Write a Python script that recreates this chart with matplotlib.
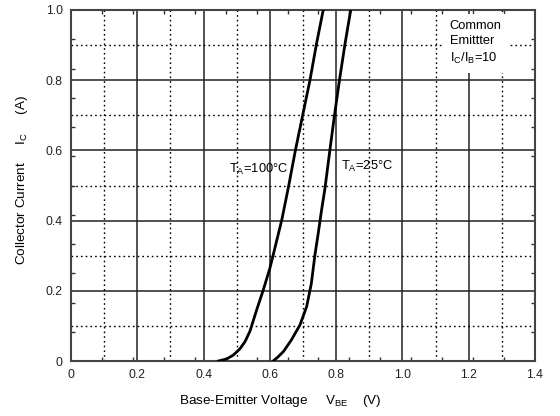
import numpy as np
import matplotlib
matplotlib.use("Agg")
import matplotlib.pyplot as plt

# curves
vbe_100 = [0.445, 0.47, 0.49, 0.51, 0.525, 0.54, 0.56, 0.58, 0.60, 0.61, 0.636, 0.657, 0.677, 0.699, 0.721, 0.741, 0.761]
ic_100 = [0.0, 0.006, 0.017, 0.035, 0.055, 0.085, 0.145, 0.202, 0.264, 0.302, 0.402, 0.50, 0.60, 0.70, 0.80, 0.905, 1.0]
vbe_25 = [0.610, 0.625, 0.641, 0.665, 0.691, 0.711, 0.725, 0.736, 0.746, 0.756, 0.766, 0.781, 0.795, 0.810, 0.827, 0.844]
ic_25 = [0.0, 0.012, 0.027, 0.060, 0.103, 0.155, 0.220, 0.302, 0.364, 0.430, 0.490, 0.600, 0.700, 0.800, 0.905, 1.0]

x_ticks = [0, 0.2, 0.4, 0.6, 0.8, 1.0, 1.2, 1.4]
x_labels = ["0", "0.2", "0.4", "0.6", "0.8", "1.0", "1.2", "1.4"]
y_ticks = [0, 0.2, 0.4, 0.6, 0.8, 1.0]
y_labels = ["0", "0.2", "0.4", "0.6", "0.8", "1.0"]
x_dotted = [0.1, 0.3, 0.5, 0.7, 0.9, 1.1, 1.3]
y_dotted = [0.1, 0.3, 0.5, 0.7, 0.9]

plt.rcParams['font.family'] = ['Liberation Sans', 'DejaVu Sans']

fig = plt.figure(figsize=(5.6, 4.16), dpi=100)
ax = fig.add_axes([71/560, 1 - 361/416, (535-71)/560, (361-10)/416])

ax.set_xlim(0, 1.4)
ax.set_ylim(0, 1.0)

# grid: solid majors, dotted halves
for x in x_ticks[1:-1]:
    ax.axvline(x, color='#222222', lw=1.1, zorder=1)
for y in y_ticks[1:-1]:
    ax.axhline(y, color='#222222', lw=1.1, zorder=1)
for x in x_dotted:
    ax.axvline(x, color='black', lw=1.0, ls=(0, (1.2, 2.2)), zorder=1)
for y in y_dotted:
    ax.axhline(y, color='black', lw=1.0, ls=(0, (1.2, 2.2)), zorder=1)

ax.plot(vbe_100, ic_100, color='black', lw=2.0, zorder=3)
ax.plot(vbe_25, ic_25, color='black', lw=2.0, zorder=3)

ax.set_xticks(x_ticks)
ax.set_xticklabels(x_labels)
ax.set_yticks(y_ticks)
ax.set_yticklabels(y_labels)
ax.set_xticks(np.arange(0, 16) * 1.4 / 15, minor=True)
ax.set_yticks(np.arange(0, 13) / 12, minor=True)
ax.tick_params(which='major', length=0, labelsize=8.7, pad=6, colors='#222222')
ax.tick_params(which='minor', direction='in', length=3, width=1, top=True, right=True, color='#333333')

for s in ax.spines.values():
    s.set_color('#444444')
    s.set_linewidth(1.5)

ax.text(0.565, 0.547, "T$_\\mathregular{A}$=100°C", fontsize=9.3, ha='center', va='center', zorder=4)
ax.text(0.893, 0.553, "T$_\\mathregular{A}$=25°C", fontsize=9.3, ha='center', va='center', zorder=4)
ax.text(1.143, 0.905, "Common\nEmittter\nI$_\\mathregular{C}$/I$_\\mathregular{B}$=10", fontsize=9.3,
        ha='left', va='center', linespacing=1.35, zorder=4,
        bbox=dict(facecolor='white', edgecolor='none', pad=5))

fig.text(280/560, 1 - 401/416, "Base-Emitter Voltage     V$_\\mathregular{BE}$    (V)", fontsize=9.7,
         ha='center', va='center')
fig.text(22/560, 1 - 180/416, "Collector Current     I$_\\mathregular{C}$     (A)", fontsize=9.7,
         ha='center', va='center', rotation=90)

fig.savefig("out.png", dpi=100)
